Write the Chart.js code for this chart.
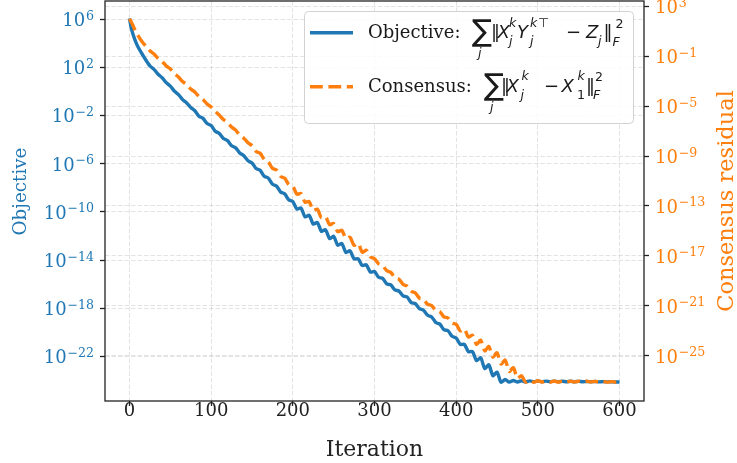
<!DOCTYPE html>
<html><head><meta charset="utf-8">
<script src="https://cdn.jsdelivr.net/npm/chart.js@4/dist/chart.umd.min.js"></script>
<style>
html,body{margin:0;padding:0;background:#fff;}
#wrap{position:relative;width:737px;height:463px;}
</style></head>
<body>
<div id="wrap"><canvas id="c" width="737" height="463"></canvas></div>
<script>
// ---------------- data ----------------
const iterations = [0,2,4,6,8,10,
 15,20,25,30,35,40,45,50,55,60,65,70,75,80,85,90,95,100,
 105,110,115,120,125,130,135,140,145,150,155,160,165,170,175,180,185,190,195,200,
 205,210,215,220,225,230,235,240,245,250,255,260,265,270,275,280,285,290,295,300,
 305,310,315,320,325,330,335,340,345,350,355,360,365,370,375,380,385,390,395,400,
 405,410,415,420,425,430,435,440,445,450,455,460,465,470,475,480,485,490,495,500,
 505,510,515,520,525,530,535,540,545,550,555,560,565,570,575,580,585,590,595,600];
// log10 of objective (left axis)
const objectiveExp = [6.05,5.3,4.8,4.4,4.05,3.75,
 3.15,2.6,2.12,1.83,1.42,1.13,0.72,0.43,0.02,-0.27,-0.69,-0.96,-1.34,-1.61,-2.06,-2.24,-2.66,-2.84,
 -3.31,-3.49,-3.91,-4.09,-4.51,-4.69,-5.11,-5.34,-5.76,-5.94,-6.4,-6.55,-7.05,-7.2,-7.7,-7.85,-8.35,-8.5,-9.0,-9.15,
 -9.77,-9.68,-10.42,-10.28,-11.02,-10.88,-11.62,-11.48,-12.22,-12.03,-12.77,-12.63,-13.37,-13.23,-13.9,-13.9,-14.45,-14.4,-15.0,-14.95,
 -15.43,-15.52,-15.98,-16.07,-16.48,-16.57,-16.98,-17.07,-17.53,-17.62,-18.03,-18.17,-18.58,-18.72,-19.18,-19.32,-19.78,-19.87,-20.33,-20.47,
 -21.0,-21.0,-21.6,-21.6,-22.35,-22.1,-23.0,-22.7,-23.6,-23.3,-24.15,-23.92,-24.13,-24.0,-24.12,-24.02,-24.12,-24.03,-24.1,-24.04,
 -24.1,-24.05,-24.1,-24.05,-24.1,-24.06,-24.1,-24.06,-24.1,-24.07,-24.1,-24.08,-24.1,-24.08,-24.11,-24.09,-24.11,-24.1,-24.12,-24.12];
// log10 of consensus residual (right axis)
const consensusExp = [2.0,1.75,1.5,1.2,0.95,0.7,
 0.2,-0.2,-0.57,-0.83,-1.18,-1.42,-1.78,-2.02,-2.38,-2.67,-3.03,-3.27,-3.63,-3.87,-4.23,-4.47,-4.83,-5.07,
 -5.43,-5.72,-6.08,-6.32,-6.68,-6.92,-7.33,-7.57,-7.93,-8.17,-8.63,-8.77,-9.28,-9.47,-9.98,-10.12,-10.63,-10.77,-11.28,-11.42,
 -12.05,-12.0,-12.7,-12.65,-13.35,-13.25,-13.95,-13.85,-14.5,-14.4,-15.05,-14.95,-15.6,-15.5,-16.15,-16.0,-16.7,-16.55,-17.08,-17.22,
 -17.63,-17.77,-18.18,-18.32,-18.73,-18.87,-19.28,-19.42,-19.83,-19.97,-20.38,-20.47,-20.88,-20.97,-21.38,-21.47,-21.88,-21.97,-22.38,-22.47,
 -23.0,-22.85,-23.5,-23.35,-24.1,-23.75,-24.6,-24.25,-25.1,-24.75,-25.65,-25.35,-26.25,-25.95,-26.8,-26.6,-27.1,-26.95,-27.12,-27.0,
 -27.1,-27.02,-27.1,-27.02,-27.1,-27.03,-27.1,-27.03,-27.1,-27.04,-27.1,-27.04,-27.1,-27.05,-27.1,-27.06,-27.11,-27.07,-27.11,-27.1];

const xTickValues = [0,100,200,300,400,500,600];
const leftTickExp = [6,2,-2,-6,-10,-14,-18,-22];
const leftTickLabels = ['6','2','\u22122','\u22126','\u221210','\u221214','\u221218','\u221222'];   // exponents of 10
const rightTickExp = [3,-1,-5,-9,-13,-17,-21,-25];
const rightTickLabels = ['3','\u22121','\u22125','\u22129','\u221213','\u221217','\u221221','\u221225'];
const xTitle = 'Iteration';
const leftTitle = 'Objective';
const rightTitle = 'Consensus residual';

// ---------------- styling ----------------
const BLUE = '#1f77b4', ORANGE = '#ff7f0e', INK = '#222222';
const SERIF = '"DejaVu Serif", serif';
Chart.defaults.font.family = SERIF;
const gridStyle = {color:'rgba(0,0,0,0.11)', lineWidth:1, tickColor:INK, tickWidth:1.3, tickLength:5, tickBorderDash:[]};
const borderStyle = {display:false, dash:[4.5,2]};

function pts(exps){ return iterations.map((it,i)=>({x:it, y:Math.pow(10, exps[i])})); }

function drawPowerLabels(ctx, scale, exps, labels, color, side){
  ctx.save();
  ctx.fillStyle = color; ctx.textBaseline = 'alphabetic';
  const baseF = '18px '+SERIF, supF = '12.6px '+SERIF;
  exps.forEach((e,i)=>{
    const p = scale.getPixelForValue(Math.pow(10,e));
    ctx.font = baseF; const bw = ctx.measureText('10').width;
    ctx.font = supF;  const ew = ctx.measureText(labels[i]).width;
    let x0 = side==='left' ? 94 - ew - bw - 0.8 : 655;
    ctx.textAlign = 'left';
    ctx.font = baseF; ctx.fillText('10', x0, p+7);
    ctx.font = supF;  ctx.fillText(labels[i], x0+bw+0.8, p+0.5);
  });
  ctx.restore();
}

const decor = {
  id:'decor',
  afterDraw(chart){
    const ctx = chart.ctx, a = chart.chartArea;
    ctx.save();
    ctx.strokeStyle = INK; ctx.lineWidth = 1.3;
    ctx.strokeRect(a.left, a.top, a.right-a.left, a.bottom-a.top);
    ctx.restore();
    drawPowerLabels(ctx, chart.scales.y, leftTickExp, leftTickLabels, BLUE, 'left');
    drawPowerLabels(ctx, chart.scales.y1, rightTickExp, rightTickLabels, ORANGE, 'right');
    // axis titles (both read bottom-to-top)
    ctx.save();
    ctx.fillStyle = BLUE; ctx.font = '18.3px '+SERIF;
    ctx.translate(25.5, 191.5); ctx.rotate(-Math.PI/2);
    ctx.textAlign='center'; ctx.textBaseline='alphabetic';
    ctx.fillText(leftTitle, 0, 0);
    ctx.restore();
    ctx.save();
    ctx.fillStyle = ORANGE; ctx.font = '22.5px '+SERIF;
    ctx.translate(733, 201); ctx.rotate(-Math.PI/2);
    ctx.textAlign='center'; ctx.textBaseline='alphabetic';
    ctx.fillText(rightTitle, 0, 0);
    ctx.restore();
    drawLegend(ctx);
  }
};

function drawLegend(ctx){
  ctx.save();
  const x=304.5, y=11.5, w=329, h=112, r=4;
  ctx.beginPath();
  ctx.moveTo(x+r,y); ctx.lineTo(x+w-r,y); ctx.arcTo(x+w,y,x+w,y+r,r);
  ctx.lineTo(x+w,y+h-r); ctx.arcTo(x+w,y+h,x+w-r,y+h,r);
  ctx.lineTo(x+r,y+h); ctx.arcTo(x,y+h,x,y+h-r,r);
  ctx.lineTo(x,y+r); ctx.arcTo(x,y,x+r,y,r); ctx.closePath();
  ctx.fillStyle='rgba(255,255,255,0.85)'; ctx.fill();
  ctx.strokeStyle='#d2d2d2'; ctx.lineWidth=1; ctx.stroke();
  ctx.lineWidth=3.4; ctx.lineCap='butt';
  ctx.strokeStyle=BLUE; ctx.beginPath(); ctx.moveTo(310,32.7); ctx.lineTo(353,32.7); ctx.stroke();
  ctx.strokeStyle=ORANGE; ctx.setLineDash([12.8,5.6]); ctx.beginPath(); ctx.moveTo(310,86.7); ctx.lineTo(353,86.7); ctx.stroke();
  ctx.setLineDash([]);
  const serif='18px '+SERIF, up='18px "DejaVu Sans"', it='italic 18px "DejaVu Sans"',
        sit='italic 12.6px "DejaVu Sans"', sup='12.6px "DejaVu Sans"', big='30px "DejaVu Sans"';
  const pieces = [
    ['Objective:',368,38.3,serif],['\u2211',472,41,big],['j',478,57,sit],
    ['\u2016',491,38.3,up],['X',497.5,38.3,it],['k',509,26.5,sit],['j',509,45,sit],
    ['Y',517,38.3,it],['k',530,26.5,sit],['\u22A4',538,26.5,sup],['j',530,45,sit],
    ['\u2212',566,38.3,up],['Z',586,38.3,it],['j',598,45,sit],['\u2016',603.5,38.3,up],
    ['2',615.5,27.5,sup],['F',612.5,46,sit],
    ['Consensus:',368,91.7,serif],['\u2211',484,94.5,big],['j',490,110.5,sit],
    ['\u2016',501,91.7,up],['X',506.5,91.7,it],['k',521.5,79.5,sit],['j',520.5,98.5,sit],
    ['\u2212',544,91.7,up],['X',561.5,91.7,it],['k',577.5,79.5,sit],['1',577,98.5,sup],
    ['\u2016',586,91.7,up],['2',595,80.5,sup],['F',593,99,sit]
  ];
  ctx.fillStyle='#1a1a1a'; ctx.textAlign='left'; ctx.textBaseline='alphabetic';
  for (const [t,px,py,f] of pieces){ ctx.font=f; ctx.fillText(t,px,py); }
  ctx.restore();
}

new Chart(document.getElementById('c'), {
  type:'line',
  data:{ datasets:[
    {label:'Objective', data:pts(objectiveExp), yAxisID:'y', borderColor:BLUE, borderWidth:3.4,
     pointRadius:0, tension:0.25, fill:false, order:1},
    {label:'Consensus', data:pts(consensusExp), yAxisID:'y1', borderColor:ORANGE, borderWidth:3.4,
     borderDash:[12.8,5.6], pointRadius:0, tension:0.25, fill:false, order:0}
  ]},
  options:{
    responsive:false, animation:false, devicePixelRatio:1,
    layout:{padding:{top:1,left:0,right:0,bottom:0}},
    plugins:{legend:{display:false}, tooltip:{enabled:false}},
    scales:{
      x:{type:'linear', min:-30, max:630,
         afterBuildTicks:s=>{ s.ticks = xTickValues.map(v=>({value:v})); },
         afterFit:s=>{ s.height=62; },
         grid:gridStyle, border:borderStyle,
         ticks:{autoSkip:false, maxRotation:0, padding:-5, color:INK, font:{size:18}},
         title:{display:true, text:xTitle, color:INK, font:{size:22}, padding:{top:0,bottom:0}}},
      y:{type:'logarithmic', position:'left', min:Math.pow(10,-25.65), max:Math.pow(10,7.5),
         afterBuildTicks:s=>{ s.ticks = leftTickExp.map(e=>({value:Math.pow(10,e)})); },
         afterFit:s=>{ s.width=105; },
         grid:gridStyle, border:borderStyle,
         ticks:{display:false, autoSkip:false}},
      y1:{type:'logarithmic', position:'right', min:Math.pow(10,-28.62), max:Math.pow(10,3.42),
         afterBuildTicks:s=>{ s.ticks = rightTickExp.map(e=>({value:Math.pow(10,e)})); },
         afterFit:s=>{ s.width=93; },
         grid:gridStyle, border:borderStyle,
         ticks:{display:false, autoSkip:false}}
    }
  },
  plugins:[decor]
});
</script>
</body></html>
